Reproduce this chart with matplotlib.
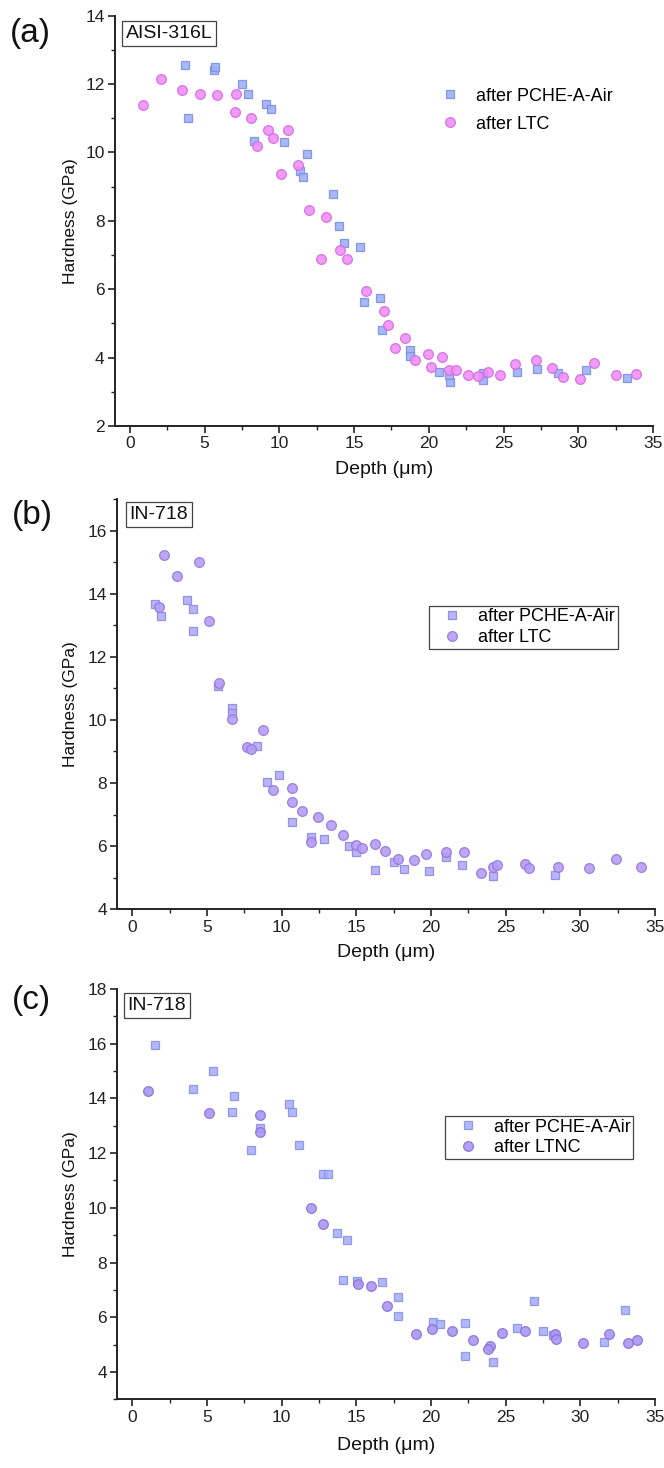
import matplotlib
matplotlib.use("Agg")
import matplotlib.pyplot as plt
from matplotlib.ticker import MultipleLocator

plt.rcParams['font.family'] = ['Liberation Sans', 'DejaVu Sans']

# ---- data: depth (um) vs hardness (GPa) ----
a_air_x = [3.7, 3.9, 5.6, 5.7, 7.5, 7.9, 8.3, 9.1, 9.45, 10.3, 11.4, 11.6, 11.85, 13.6, 14.0,
           14.33, 15.42, 15.66, 16.71, 16.89, 18.72, 18.72, 20.68, 21.39, 21.35, 23.6, 23.6,
           25.9, 27.23, 28.63, 30.53, 33.25]
a_air_y = [12.55, 11.0, 12.4, 12.5, 12.0, 11.72, 10.33, 11.43, 11.26, 10.32, 9.45, 9.28, 9.96,
           8.79, 7.85, 7.36, 7.23, 5.62, 5.73, 4.80, 4.22, 4.05, 3.59, 3.28, 3.5, 3.35, 3.56,
           3.59, 3.67, 3.56, 3.64, 3.39]
a_ltc_x = [0.89, 2.07, 3.5, 4.68, 5.84, 7.13, 7.06, 8.07, 8.47, 9.27, 9.6, 10.14, 10.58, 11.23,
           11.97, 13.15, 12.81, 14.08, 14.5, 15.78, 16.98, 17.27, 17.74, 18.38, 19.05, 19.94,
           20.12, 20.88, 21.32, 21.84, 22.61, 23.28, 23.95, 24.76, 25.76, 27.14, 28.21, 28.97,
           30.1, 31.04, 32.53, 33.87]
a_ltc_y = [11.38, 12.15, 11.84, 11.72, 11.69, 11.72, 11.18, 11.02, 10.18, 10.67, 10.43, 9.38,
           10.67, 9.63, 8.33, 8.11, 6.88, 7.16, 6.88, 5.94, 5.35, 4.94, 4.28, 4.57, 3.92, 4.10,
           3.74, 4.01, 3.63, 3.63, 3.50, 3.47, 3.58, 3.50, 3.80, 3.92, 3.69, 3.44, 3.36, 3.84,
           3.50, 3.52]

b_air_x = [1.52, 1.92, 3.64, 4.09, 4.09, 5.76, 6.66, 6.66, 8.33, 9.0, 9.85, 10.68, 11.97, 12.84,
           14.53, 14.98, 16.28, 17.53, 18.2, 19.88, 21.0, 22.06, 24.18, 28.3]
b_air_y = [13.68, 13.3, 13.81, 13.51, 12.82, 11.06, 10.38, 10.22, 9.16, 8.03, 8.25, 6.77, 6.30,
           6.24, 6.0, 5.83, 5.24, 5.5, 5.29, 5.20, 5.65, 5.41, 5.05, 5.1]
b_ltc_x = [1.76, 2.14, 3.01, 4.49, 5.12, 5.81, 6.66, 7.66, 7.95, 8.75, 9.42, 10.68, 10.68, 11.35,
           11.97, 12.42, 13.29, 14.11, 15.0, 15.41, 16.25, 16.9, 17.77, 18.84, 19.68, 20.98,
           22.22, 23.34, 24.14, 24.41, 26.3, 26.6, 28.5, 30.6, 32.4, 34.1]
b_ltc_y = [13.58, 15.23, 14.57, 14.99, 13.15, 11.17, 10.03, 9.13, 9.08, 9.69, 7.77, 7.84, 7.39,
           7.13, 6.14, 6.94, 6.67, 6.36, 6.03, 5.93, 6.08, 5.84, 5.58, 5.55, 5.74, 5.81, 5.80,
           5.14, 5.35, 5.40, 5.45, 5.3, 5.35, 5.3, 5.6, 5.35]

c_air_x = [1.52, 4.09, 5.38, 6.66, 6.83, 7.93, 8.55, 10.5, 10.7, 11.17, 12.8, 13.08, 13.73, 14.36,
           14.13, 15.03, 16.72, 17.8, 17.8, 20.16, 20.61, 22.28, 22.28, 24.18, 25.75, 26.9,
           27.5, 28.2, 31.6, 33.0]
c_air_y = [15.95, 14.36, 15.0, 13.51, 14.08, 12.1, 12.93, 13.78, 13.49, 12.31, 11.22, 11.22, 9.07,
           8.83, 7.37, 7.34, 7.3, 6.73, 6.06, 5.81, 5.75, 5.78, 4.59, 4.38, 5.59, 6.6, 5.5,
           5.35, 5.1, 6.25]
c_ltnc_x = [1.07, 5.12, 8.55, 8.55, 11.97, 12.8, 15.14, 15.99, 17.08, 19.0, 20.07, 21.39, 22.84,
            23.96, 23.84, 24.76, 26.3, 28.3, 28.4, 30.2, 31.9, 33.2, 33.8]
c_ltnc_y = [14.26, 13.48, 13.41, 12.77, 9.99, 9.42, 7.22, 7.13, 6.41, 5.39, 5.57, 5.48, 5.18,
            4.96, 4.84, 5.44, 5.51, 5.4, 5.2, 5.05, 5.4, 5.05, 5.15]

W, H = 664, 1468
fig = plt.figure(figsize=(W / 100, H / 100), dpi=100)


def px_axes(left, top, right, bottom):
    return fig.add_axes([left / W, 1 - bottom / H, (right - left) / W, (bottom - top) / H])


def style_axes(ax, ylim, ylabel_y):
    ax.set_xlim(-1, 35)
    ax.set_ylim(*ylim)
    for s in ('top', 'right'):
        ax.spines[s].set_visible(False)
    for s in ('left', 'bottom'):
        ax.spines[s].set_linewidth(1.4)
        ax.spines[s].set_color('#222222')
    ax.xaxis.set_major_locator(MultipleLocator(5))
    ax.xaxis.set_minor_locator(MultipleLocator(2.5))
    ax.yaxis.set_major_locator(MultipleLocator(2))
    ax.yaxis.set_minor_locator(MultipleLocator(1))
    ax.tick_params(which='major', direction='out', length=5, width=1.2, labelsize=12.5,
                   colors='#222222', pad=2.5)
    ax.tick_params(which='minor', direction='out', length=3, width=1.0, colors='#222222')
    ax.set_xlabel('Depth (\u03bcm)', fontsize=14, color='#111111', va='center')
    ax.set_ylabel('Hardness (GPa)', fontsize=12.5, color='#111111', va='center')
    ax.yaxis.set_label_coords(71 / W, 1 - ylabel_y / H, transform=fig.transFigure)


def legend(ax, labels, left, top, frame, spacing):
    leg = ax.legend(labels, loc='upper left', bbox_to_anchor=(left / W, 1 - top / H),
                    bbox_transform=fig.transFigure, borderaxespad=0, frameon=frame,
                    fancybox=False, edgecolor='#444444', framealpha=1, fontsize=13,
                    borderpad=0.15, handlelength=2.2, handletextpad=0.35,
                    labelspacing=spacing, numpoints=1)
    leg.get_frame().set_linewidth(0.9)
    return leg


def tag(text, x, y):
    fig.text(x / W, 1 - y / H, text, fontsize=24, ha='left', va='top', color='#111111')


def boxed(text, left, top):
    fig.text((left + 4) / W, 1 - (top + 4) / H, text, fontsize=14, ha='left', va='top',
             color='#111111',
             bbox=dict(boxstyle='square,pad=0.2', facecolor='white', edgecolor='#444444',
                       linewidth=0.9))


sq = dict(marker='s', linestyle='none', markersize=6.2, markeredgewidth=0.9, alpha=0.9)
ci = dict(marker='o', linestyle='none', markersize=7.0, markeredgewidth=0.9, alpha=0.9)

# (a) AISI-316L
ax_a = px_axes(115, 15.7, 653, 426)
ax_a.plot(a_air_x, a_air_y, markerfacecolor='#9fb1f6', markeredgecolor='#7b8fe6', **sq)
ax_a.plot(a_ltc_x, a_ltc_y, markerfacecolor='#f08ff6', markeredgecolor='#d46ae6', **ci)
style_axes(ax_a, (2, 14), (15.7 + 426) / 2)
ax_a.xaxis.set_label_coords(384 / W, 1 - 470 / H, transform=fig.transFigure)
legend(ax_a, ['after PCHE-A-Air', 'after LTC'], 427, 85, False, 0.6)
tag('(a)', 10, 18)
boxed('AISI-316L', 121.7, 20.7)

# (b) IN-718 after LTC
ax_b = px_axes(117.4, 499, 654.9, 909.3)
ax_b.plot(b_air_x, b_air_y, markerfacecolor='#b2acf6', markeredgecolor='#8f88e6', **sq)
ax_b.plot(b_ltc_x, b_ltc_y, markerfacecolor='#b59ef3', markeredgecolor='#9576df', **ci)
style_axes(ax_b, (4, 17), (499 + 909.3) / 2)
ax_b.xaxis.set_label_coords(386 / W, 1 - 953 / H, transform=fig.transFigure)
legend(ax_b, ['after PCHE-A-Air', 'after LTC'], 429.3, 605.7, True, 0.2)
tag('(b)', 12, 500)
boxed('IN-718', 125.7, 501.7)

# (c) IN-718 after LTNC
ax_c = px_axes(117.4, 989, 654.9, 1399.3)
ax_c.plot(c_air_x, c_air_y, markerfacecolor='#a9b1f8', markeredgecolor='#8790ee', **sq)
ax_c.plot(c_ltnc_x, c_ltnc_y, markerfacecolor='#aa97f0', markeredgecolor='#8a70e0', **ci)
style_axes(ax_c, (3, 18), (989 + 1399.3) / 2)
ax_c.xaxis.set_label_coords(386 / W, 1 - 1445 / H, transform=fig.transFigure)
legend(ax_c, ['after PCHE-A-Air', 'after LTNC'], 445, 1116, True, 0.2)
tag('(c)', 12, 985)
boxed('IN-718', 123.7, 993.3)

fig.savefig('out.png', dpi=100)
